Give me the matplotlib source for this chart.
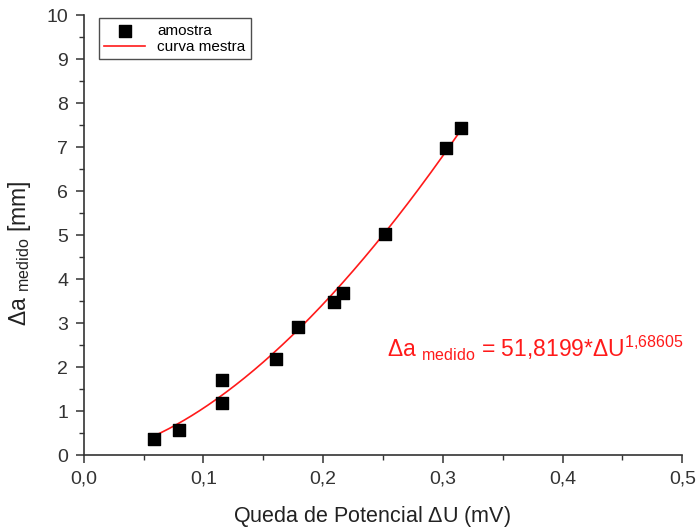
import matplotlib

matplotlib.use("Agg")

import matplotlib.pyplot as plt
import numpy as np

plt.rcParams["font.family"] = ["Liberation Sans", "DejaVu Sans"]
plt.rcParams["mathtext.fontset"] = "custom"
plt.rcParams["mathtext.rm"] = "Liberation Sans"
plt.rcParams["mathtext.it"] = "Liberation Sans"

# measured samples
delta_u = [0.0585, 0.0794, 0.1154, 0.1154, 0.161, 0.179, 0.209, 0.217, 0.252, 0.303, 0.315]
delta_a = [0.36, 0.57, 1.70, 1.18, 2.18, 2.91, 3.48, 3.68, 5.02, 6.98, 7.43]

# fitted master curve parameters (from the chart annotation)
fit_coef = 51.8199
fit_exp = 1.68605
fit_range = [0.058, 0.316]

x_ticks = [0.0, 0.1, 0.2, 0.3, 0.4, 0.5]
x_labels = ["0,0", "0,1", "0,2", "0,3", "0,4", "0,5"]
y_ticks = list(range(0, 11))

fig = plt.figure(figsize=(6.97, 5.28), dpi=100)
ax = fig.add_axes([0.120, 0.138, 0.859, 0.833])

xs = np.linspace(fit_range[0], fit_range[1], 200)
ax.plot(xs, fit_coef * xs ** fit_exp, color="#ff1a1a", linewidth=1.2, label="curva mestra", zorder=2)
ax.scatter(delta_u, delta_a, marker="s", s=70, color="black", label="amostra", zorder=3)

ax.set_xlim(0, 0.5)
ax.set_ylim(0, 10)
ax.set_xticks(x_ticks)
ax.set_xticklabels(x_labels)
ax.set_xticks(np.arange(0.05, 0.5, 0.1), minor=True)
ax.set_yticks(y_ticks)
ax.set_yticks(np.arange(0.5, 10, 1), minor=True)

for side in ("top", "right"):
    ax.spines[side].set_visible(False)
for side in ("left", "bottom"):
    ax.spines[side].set_color("#333333")
    ax.spines[side].set_linewidth(1.2)

ax.tick_params(which="major", direction="out", length=6, width=1.1, color="#333333",
               labelsize=14, labelcolor="#333333", pad=5)
ax.tick_params(which="minor", direction="out", length=3.5, width=1.0, color="#333333")

ax.set_xlabel(r"Queda de Potencial $\Delta$U (mV)", fontsize=15.5, color="#222222")
ax.xaxis.set_label_coords(0.482, -0.112)
ax.set_ylabel(r"$\Delta {\rm a}\ _{\rm medido}$ [mm]", fontsize=16.5, color="#222222")
ax.yaxis.set_label_coords(-0.085, 0.459)

ax.text(0.253, 2.24, r"$\Delta {\rm a}\ _{\rm medido}$ = 51,8199*$\Delta$U$^{1{,}68605}$",
        fontsize=16.5, color="#ff1a1a", ha="left", va="baseline")

handles, labels = ax.get_legend_handles_labels()
leg = ax.legend(handles[::-1], labels[::-1], loc="upper left", bbox_to_anchor=(0.02, 1.0),
                fontsize=11, frameon=True, fancybox=False, borderpad=0.35,
                handlelength=2.7, labelspacing=0.15, handletextpad=0.8, borderaxespad=0.2)
leg.get_frame().set_edgecolor("#222222")
leg.get_frame().set_linewidth(1.0)

fig.savefig("out.png", dpi=100)
